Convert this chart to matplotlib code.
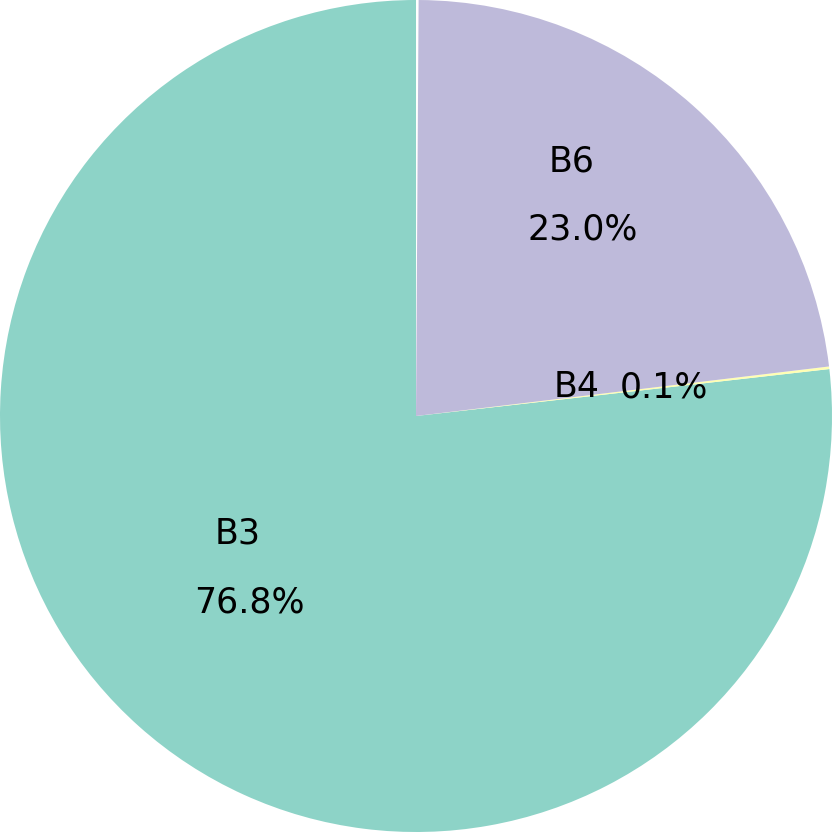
import numpy as np
import matplotlib
matplotlib.use('Agg')
import matplotlib.pyplot as plt

labels = ['B3', 'B4', 'B6']
shares = [0.768, 0.001, 0.230]
colors = ['#8dd3c7', '#ffffb3', '#bebada']
# label offset from the percentage text (data units, radius = 1)
label_offsets = [(-0.03, 0.165), (-0.21, 0.0), (-0.025, 0.165)]

fig = plt.figure(figsize=(8.32, 8.32), dpi=100)
ax = fig.add_axes([0, 0, 1, 1])

wedges, texts, autotexts = ax.pie(
    shares, colors=colors, startangle=90, counterclock=True,
    normalize=False, autopct='%1.1f%%', pctdistance=0.6,
    textprops={'fontsize': 25, 'color': 'black'})

for lab, at, (dx, dy) in zip(labels, autotexts, label_offsets):
    x, y = at.get_position()
    ax.text(x + dx, y + dy, lab, fontsize=25, ha='center', va='center')

ax.set_xlim(-1, 1)
ax.set_ylim(-1, 1)
ax.set_aspect('equal')
ax.axis('off')

fig.savefig('out.png', dpi=100)
